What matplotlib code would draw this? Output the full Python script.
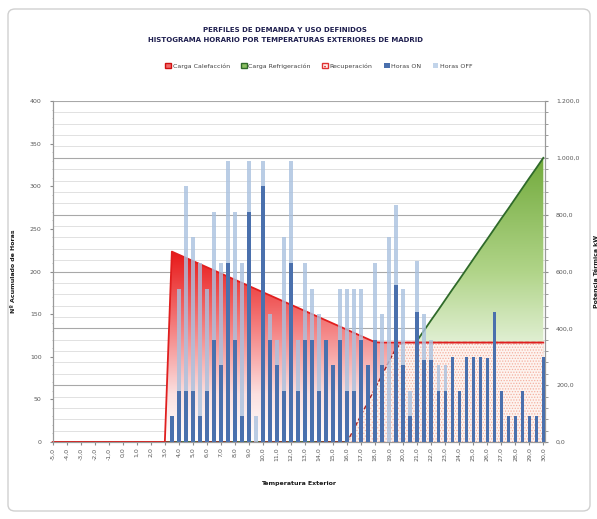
import numpy as np
import matplotlib
matplotlib.use('Agg')
import matplotlib.pyplot as plt
from matplotlib.colors import LinearSegmentedColormap
from matplotlib.patches import Patch, FancyBboxPatch
from matplotlib.ticker import MultipleLocator

plt.rcParams['font.family'] = ['Liberation Sans Narrow', 'DejaVu Sans']
plt.rcParams['hatch.linewidth'] = 0.6

# ---------------- data ----------------
temps = np.arange(-5.0, 30.01, 0.5)          # temperature categories (71)

hours_on = [0, 0, 0, 0, 0, 0, 0, 0, 0, 0, 0, 0, 0, 0, 0, 0, 0,
            30, 60, 60, 60, 30, 60, 120, 90, 210, 120, 30, 270, 0, 300, 120, 90, 60, 210,
            60, 120, 120, 60, 120, 90, 120, 60, 60, 120, 90, 120, 90, 0, 184, 90, 30, 152,
            96, 96, 60, 60, 100, 60, 100, 100, 100, 98, 152, 60, 30, 30, 60, 30, 30, 100]
hours_off = [0, 0, 0, 0, 0, 0, 0, 0, 0, 0, 0, 0, 0, 0, 0, 0, 0,
             0, 120, 240, 180, 180, 120, 150, 120, 120, 150, 180, 60, 30, 30, 30, 30, 180, 120,
             60, 90, 60, 90, 0, 0, 60, 120, 120, 60, 0, 90, 60, 240, 94, 90, 30, 60,
             54, 24, 30, 30, 0, 0, 0, 0, 0, 0, 0, 0, 0, 0, 0, 0, 0, 0]

carga_calef = [0, 0, 0, 0, 0, 0, 0, 0, 0, 0, 0, 0, 0, 0, 0, 0, 0,
               670, 659, 648, 637, 626, 615, 604, 593, 582, 571, 560, 549, 538, 527, 516,
               505, 494, 483, 472, 461, 450, 439, 428, 417, 406, 395, 384, 373, 362, 351,
               350, 350, 350, 350, 350, 350, 350, 350, 350, 350, 350, 350,
               350, 350, 350, 350, 350, 350, 350, 350, 350, 350, 350, 350]
carga_refr = [0, 0, 0, 0, 0, 0, 0, 0, 0, 0, 0, 0, 0, 0, 0, 0, 0, 0, 0, 0, 0, 0,
              0, 0, 0, 0, 0, 0, 0, 0, 0, 0, 0, 0, 0, 0, 0, 0, 0, 0, 0, 0, 0,
              36, 71, 107, 143, 179, 214, 250, 286, 321, 357, 393, 429, 464, 500,
              536, 571, 607, 643, 679, 714, 750, 786, 821, 857, 893, 929, 964, 1000]
recuperacion = [0, 0, 0, 0, 0, 0, 0, 0, 0, 0, 0, 0, 0, 0, 0, 0, 0, 0, 0, 0, 0, 0,
                0, 0, 0, 0, 0, 0, 0, 0, 0, 0, 0, 0, 0, 0, 0, 0, 0, 0, 0, 0, 0,
                47, 95, 142, 189, 236, 284, 331,
                350, 350, 350, 350, 350, 350, 350, 350, 350, 350, 350,
                350, 350, 350, 350, 350, 350, 350, 350, 350, 350]

x_labels = ['%.1f' % t for t in np.arange(-5, 31, 1)]
x_labels = [s.replace('.', ',') for s in x_labels]
left_ticks = [0, 50, 100, 150, 200, 250, 300, 350, 400]
right_ticks = [0, 200, 400, 600, 800, 1000, 1200]
right_labels = ['0,0', '200,0', '400,0', '600,0', '800,0', '1.000,0', '1.200,0']

# ---------------- figure ----------------
fig = plt.figure(figsize=(5.97, 5.19), dpi=100)
fig.patch.set_facecolor('white')
frame = FancyBboxPatch((8 / 597, 8 / 519), 582 / 597, 502 / 519,
                       boxstyle='round,pad=0,rounding_size=0.012',
                       transform=fig.transFigure, facecolor='white',
                       edgecolor='#d0d0d0', linewidth=1.0, zorder=-10)
fig.patches.append(frame)

L, R, B, T = 52.7 / 597, 545 / 597, 1 - 442 / 519, 1 - 101 / 519
ax = fig.add_axes([L, B, R - L, T - B])      # areas, right scale (kW)
ax2 = ax.twinx()                               # bars, left scale (hours)

ax.set_xlim(-5, 30.12)
ax.set_ylim(0, 1200)
ax2.set_ylim(0, 400)

# grid (right axis major/minor)
ax.set_yticks(right_ticks)
ax.yaxis.set_minor_locator(MultipleLocator(40))
ax.grid(which='major', axis='y', color='#a8a8a8', lw=0.8, zorder=0)
ax.grid(which='minor', axis='y', color='#dcdcdc', lw=0.6, zorder=0)
ax.set_axisbelow(True)

temps_arr = np.asarray(temps)


def grad_fill(axis, x, y, colors, ymax, z):
    poly = axis.fill_between(x, 0, y, facecolor='none', edgecolor='none')
    cmap = LinearSegmentedColormap.from_list('g', colors)
    grad = np.linspace(0, 1, 256).reshape(-1, 1)
    im = axis.imshow(grad, cmap=cmap, aspect='auto', origin='lower',
                     extent=[x[0], x[-1], 0, ymax], zorder=z,
                     interpolation='bilinear')
    im.set_clip_path(poly.get_paths()[0], transform=axis.transData)


grad_fill(ax, temps_arr, np.asarray(carga_calef),
          [(0, '#ffffff'), (0.25, '#fbe0e0'), (0.6, '#f48080'), (1, '#e81818')],
          max(carga_calef), 1.0)
grad_fill(ax, temps_arr, np.asarray(carga_refr),
          [(0, '#ffffff'), (0.33, '#e4f1d8'), (0.6, '#b0d488'), (1, '#72aa3c')],
          max(carga_refr), 1.5)
ax.fill_between(temps_arr, 0, recuperacion, facecolor='#fdf3ef',
                edgecolor='#f4b0a0', hatch='......', linewidth=0, zorder=2)
ax.plot(temps_arr, carga_refr, color='#2f6a2a', lw=1.3, zorder=1.6)
ax.plot(temps_arr, recuperacion, color='#a82020', lw=1.0, ls=(0, (3, 1.5)), zorder=2.1)
ax.plot(temps_arr, carga_calef, color='#e01e1e', lw=1.3, zorder=2.2, clip_on=False)

# bars
bw = 0.24
ax2.bar(temps_arr, hours_on, width=bw, color='#4a70ad', zorder=3)
ax2.bar(temps_arr, hours_off, bottom=hours_on, width=bw, color='#a9c1df',
        alpha=0.8, zorder=3)
ax2.patch.set_visible(False)

# axes styling
tick_color = '#595959'
ax.yaxis.tick_right()
ax.yaxis.set_label_position('right')
ax.set_yticklabels(right_labels, fontsize=4.5, color=tick_color)
ax.tick_params(axis='y', which='both', length=2, color='#8c8c8c', pad=6)
ax.set_xticks(np.arange(-5, 31, 1))
ax.set_xticklabels(x_labels, rotation=90, fontsize=4.5, color=tick_color)
ax.tick_params(axis='x', length=2, color='#8c8c8c', pad=2)

ax2.yaxis.tick_left()
ax2.yaxis.set_label_position('left')
ax2.set_yticks(left_ticks)
ax2.set_yticklabels([str(v) for v in left_ticks], fontsize=4.5, color=tick_color)
ax2.yaxis.set_minor_locator(MultipleLocator(10))
ax2.tick_params(axis='y', which='major', length=2, color='#8c8c8c', pad=6)
ax2.tick_params(axis='y', which='minor', length=1, color='#b0b0b0')

for a in (ax, ax2):
    a.spines['top'].set_visible(False)
    for s in ('left', 'right', 'bottom'):
        a.spines[s].set_color('#9a9a9a')
        a.spines[s].set_linewidth(0.8)

ax2.set_ylabel('Nº Acumulado de Horas', fontsize=4.5, fontweight='bold',
               color='#1a1a1a', labelpad=10)
ax.set_ylabel('Potencia Térmica kW', fontsize=4.5, fontweight='bold',
              color='#1a1a1a', labelpad=10)
ax.set_xlabel('Temperatura Exterior', fontsize=4.5, fontweight='bold',
              color='#1a1a1a', labelpad=14)

fig.text(285 / 597, 1 - 30 / 519, 'PERFILES DE DEMANDA Y USO DEFINIDOS',
         ha='center', va='center', fontsize=5.0, fontweight='bold', color='#1f1f4f')
fig.text(285 / 597, 1 - 40 / 519,
         'HISTOGRAMA HORARIO POR TEMPERATURAS EXTERIORES DE MADRID',
         ha='center', va='center', fontsize=5.0, fontweight='bold', color='#1f1f4f')

handles = [Patch(facecolor='#f26a6a', edgecolor='#d01010', label='Carga Calefacción'),
           Patch(facecolor='#8cc063', edgecolor='#2f6a2a', label='Carga Refrigeración'),
           Patch(facecolor='#fdf2ee', edgecolor='#e03030', hatch='....', label='Recuperación'),
           Patch(facecolor='#4a70ad', label='Horas ON'),
           Patch(facecolor='#c2d4ea', label='Horas OFF')]
fig.legend(handles=handles, loc='center', bbox_to_anchor=(319 / 597, 1 - 66 / 519),
           ncol=5, frameon=False, fontsize=4.5, handlelength=0.9, handleheight=0.9,
           handletextpad=0.3, columnspacing=1.8, labelcolor='#404040')

fig.savefig('out.png', dpi=100, facecolor='white')
